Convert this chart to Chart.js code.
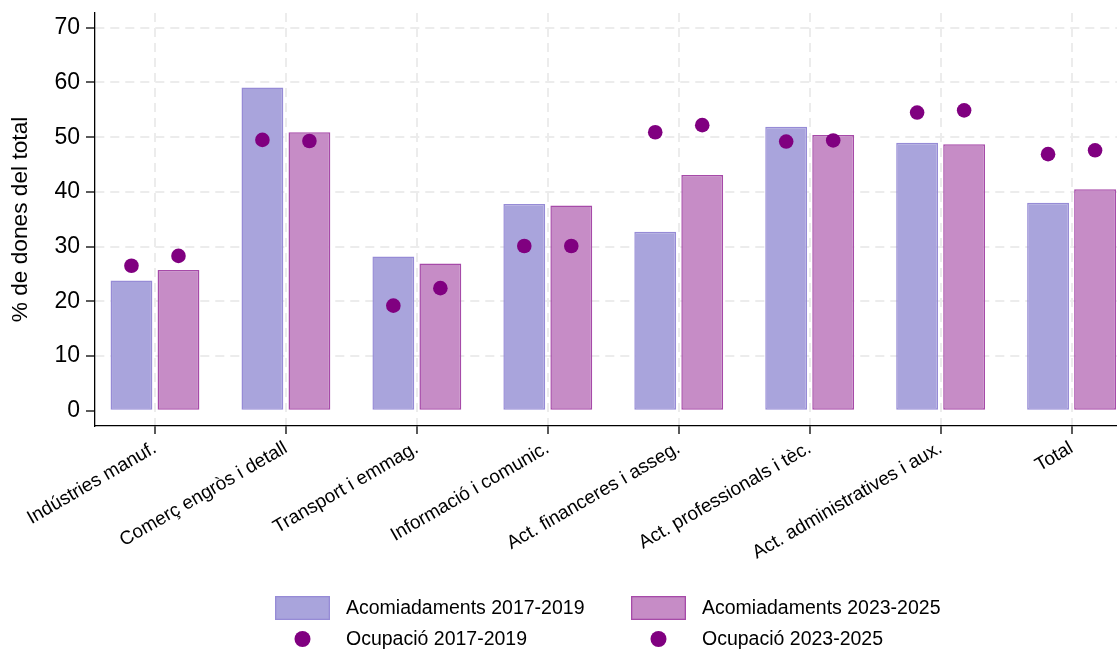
<!DOCTYPE html>
<html>
<head>
<meta charset="utf-8">
<script src="https://cdn.jsdelivr.net/npm/chart.js@4.4.1/dist/chart.umd.min.js"></script>
<style>
  html, body { margin: 0; padding: 0; background: #fff; overflow: hidden; }
</style>
</head>
<body>
<canvas id="myChart" width="1117" height="649"></canvas>
<script>
// data
const categories = ['Indústries manuf.', 'Comerç engròs i detall', 'Transport i emmag.', 'Informació i comunic.',
  'Act. financeres i asseg.', 'Act. professionals i tèc.', 'Act. administratives i aux.', 'Total'];
const acom1719 = [23.8, 59.1, 28.2, 37.8, 32.7, 51.9, 49.0, 38.0];
const acom2325 = [25.7, 50.9, 26.9, 37.5, 43.1, 50.4, 48.7, 40.5];
const ocup1719 = [26.5, 49.5, 19.2, 30.1, 50.9, 49.2, 54.5, 46.9];
const ocup2325 = [28.3, 49.3, 22.4, 30.1, 52.2, 49.4, 54.9, 47.6];
const yTicks = [0, 10, 20, 30, 40, 50, 60, 70];

const catPct = 0.718;          // share of a category the two bars take
const shift = catPct / 4;      // centre of each bar, in category units

Chart.defaults.font.family = '"Liberation Sans", Arial, sans-serif';
Chart.defaults.color = '#000';

// 2 x 2 legend under the plot
const legendGrid = {
  id: 'legendGrid',
  afterDraw(chart, args, opts) {
    const ctx = chart.ctx;
    ctx.save();
    ctx.font = '19.5px "Liberation Sans", Arial, sans-serif';
    ctx.textBaseline = 'middle';
    chart.data.datasets.forEach((ds, i) => {
      const x = opts.cols[i % 2];
      const y = opts.rows[Math.floor(i / 2)];
      if (ds.type === 'bar') {
        ctx.fillStyle = ds.backgroundColor;
        ctx.fillRect(x, y - 12, 55, 24);
        ctx.strokeStyle = ds.borderColor;
        ctx.lineWidth = 1.3;
        ctx.strokeRect(x + 0.65, y - 11.35, 53.7, 22.7);
      } else {
        ctx.fillStyle = ds.backgroundColor;
        ctx.beginPath();
        ctx.arc(x + 27.5, y, 8, 0, Math.PI * 2);
        ctx.fill();
      }
      ctx.fillStyle = '#000';
      ctx.fillText(ds.label, x + 71, y + 1);
    });
    ctx.restore();
  }
};

const ctx = document.getElementById('myChart');

const myChart = new Chart(ctx, {
  type: 'bar',
  data: {
    datasets: [{
      type: 'bar',
      label: 'Acomiadaments 2017-2019',
      data: acom1719.map((v, i) => ({x: i, y: v})),
      backgroundColor: '#a9a4dc',
      borderColor: '#968bd6',
      borderWidth: 1.5,
      borderSkipped: false,
      categoryPercentage: catPct,
      barPercentage: 0.89,
      order: 1
    }, {
      type: 'bar',
      label: 'Acomiadaments 2023-2025',
      data: acom2325.map((v, i) => ({x: i, y: v})),
      backgroundColor: '#c68cc6',
      borderColor: '#a64aa8',
      borderWidth: 1.5,
      borderSkipped: false,
      categoryPercentage: catPct,
      barPercentage: 0.89,
      order: 1
    }, {
      type: 'scatter',
      label: 'Ocupació 2017-2019',
      data: ocup1719.map((v, i) => ({x: i - shift, y: v})),
      backgroundColor: '#800080',
      borderWidth: 0,
      pointRadius: 7.3,
      order: 0
    }, {
      type: 'scatter',
      label: 'Ocupació 2023-2025',
      data: ocup2325.map((v, i) => ({x: i + shift, y: v})),
      backgroundColor: '#800080',
      borderWidth: 0,
      pointRadius: 7.3,
      order: 0
    }]
  },
  options: {
    responsive: false,
    animation: false,
    layout: {
      autoPadding: false,
      padding: { top: 13, right: 0, bottom: 60, left: 0 }
    },
    plugins: {
      legend: { display: false },
      tooltip: { enabled: false },
      legendGrid: { cols: [275, 631], rows: [608, 639] }
    },
    scales: {
      x: {
        type: 'linear',
        min: -0.458,
        max: 7.347,
        offset: false,
        afterBuildTicks: (scale) => { scale.ticks = categories.map((c, i) => ({value: i})); },
        afterFit: (scale) => { scale.height = 163; scale.paddingLeft = 0; scale.paddingRight = 0; },
        ticks: {
          autoSkip: false,
          minRotation: 30,
          maxRotation: 30,
          padding: 3,
          font: { size: 19 },
          callback: (v) => categories[v]
        },
        grid: {
          offset: false,
          color: '#ececec',
          lineWidth: 2,
          tickColor: '#000',
          tickWidth: 1.3,
          tickLength: 8,
          tickBorderDash: []
        },
        border: { color: '#000', width: 1.3, dash: [9, 6] }
      },
      y: {
        min: -2.8,
        max: 72.7,
        afterBuildTicks: (scale) => { scale.ticks = yTicks.map(v => ({value: v})); },
        afterFit: (scale) => { scale.width = 95; scale.paddingTop = 0; scale.paddingBottom = 0; },
        ticks: {
          padding: 6,
          font: { size: 23 }
        },
        grid: {
          color: (c) => (c.tick && c.tick.value === 0) ? 'rgba(0,0,0,0)' : '#ececec',
          lineWidth: 2,
          tickColor: '#000',
          tickWidth: 1.3,
          tickLength: 9,
          tickBorderDash: []
        },
        border: { color: '#000', width: 1.3, dash: [9, 6] },
        title: {
          display: true,
          text: '% de dones del total',
          font: { size: 22.7 },
          padding: { top: 7, bottom: 0 }
        }
      }
    }
  },
  plugins: [legendGrid]
});
</script>
</body>
</html>
